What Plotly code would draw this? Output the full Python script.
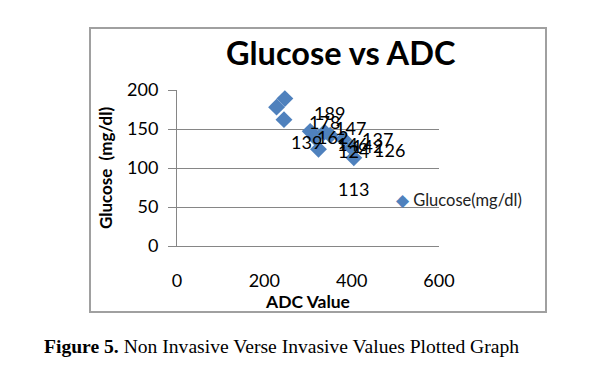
import plotly.graph_objects as go

# Data
adc_values = [228, 247, 245, 305, 324, 351, 381, 400, 405, 316, 338]
glucose_values = [178, 189, 162, 147, 124, 142, 137, 126, 113, 139, 146]
point_labels = ["178", "189", "162", "147", "124", "142", "137", "126", "113", "139", "146"]
series_name = "Glucose(mg/dl)"
# label pixel offsets (style)
label_dx = [48, 45, 49, 40, 35, 37, 34, 38, 0, -8, 28]
label_dy = [-15, -14, -17, 3, -2, -11, 0, -2, -31, -4, -12]

x_ticks = [0, 200, 400, 600]
y_ticks = [0, 50, 100, 150, 200]

OFF = 8  # page body margin
W, H = 600 - OFF, 369 - OFF
L, R, T, B = 177 - OFF, 439 - OFF, 90 - OFF, 246 - OFF


def px(x):
    return (x - OFF - L) / (R - L)


def py(y):
    return (B - (y - OFF)) / (B - T)


fig = go.Figure()
fig.add_trace(go.Scatter(
    x=adc_values, y=glucose_values, mode="markers", name=series_name,
    marker=dict(symbol="diamond", size=13, color="#4f81bd"),
))

annotations = []
for xv, yv, t, dx, dy in zip(adc_values, glucose_values, point_labels, label_dx, label_dy):
    annotations.append(dict(x=xv, y=yv, text=t, showarrow=False, xshift=dx, yshift=dy,
                            font=dict(family="Lato", size=18, color="black")))

annotations.append(dict(xref="paper", yref="paper", x=px(341), y=py(53), text="<b>Glucose vs ADC</b>",
                        showarrow=False, font=dict(family="Lato", size=32.5, color="black"),
                        xanchor="center", yanchor="middle"))
annotations.append(dict(xref="paper", yref="paper", x=px(42), y=py(346),
                        text="<b>Figure 5.</b> Non Invasive Verse Invasive Values Plotted Graph",
                        showarrow=False, font=dict(family="Liberation Serif", size=19.6, color="black"),
                        xanchor="left", yanchor="middle"))
# legend entry
annotations.append(dict(xref="paper", yref="paper", x=px(394), y=py(200),
                        text="<span style='color:#4f81bd'>◆</span> " + series_name,
                        showarrow=False, font=dict(family="Lato", size=16.5, color="#222"),
                        xanchor="left", yanchor="middle"))

shapes = [dict(type="rect", xref="paper", yref="paper", x0=px(90), x1=px(546), y0=py(28), y1=py(312),
               line=dict(color="#a0a0a0", width=2), layer="below")]

fig.update_layout(
    width=W, height=H,
    margin=dict(l=L, r=W - R, t=T, b=H - B),
    paper_bgcolor="white", plot_bgcolor="white",
    showlegend=False,
    xaxis=dict(range=[0, 600], tickvals=x_ticks, showgrid=False, zeroline=False,
               showline=True, linecolor="#868686", linewidth=1, ticks="",
               tickfont=dict(family="Lato", size=18, color="black"), ticklabelstandoff=18,
               title=dict(text="<b>ADC Value</b>", font=dict(family="Lato", size=17.5, color="black"), standoff=0)),
    yaxis=dict(range=[0, 200], tickvals=y_ticks, showgrid=True, gridcolor="#868686", gridwidth=1,
               zeroline=False, showline=True, linecolor="#868686", linewidth=1,
               ticks="outside", ticklen=8, tickcolor="#868686",
               tickfont=dict(family="Lato", size=18, color="black"), ticklabelstandoff=6,
               title=dict(text="<b>Glucose  (mg/dl)</b>", font=dict(family="Lato", size=17, color="black"), standoff=10)),
    annotations=annotations, shapes=shapes,
)

fig.write_html("out.html")
